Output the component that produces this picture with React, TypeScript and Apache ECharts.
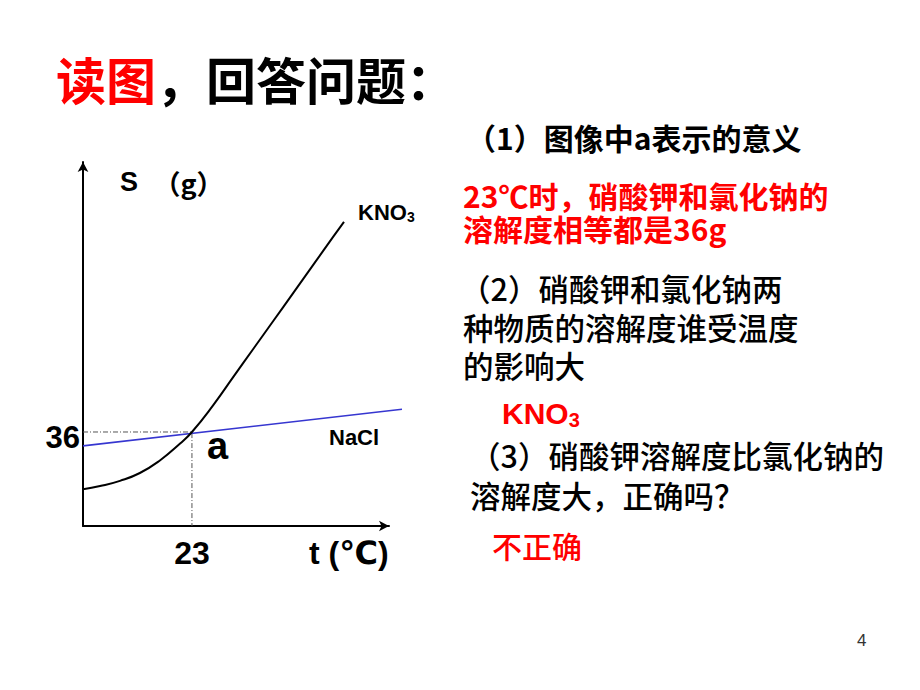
import React, { useEffect, useRef } from "react";
import * as echarts from "echarts";

// KNO3 solubility curve (t in ℃, S in g)
const kno3T = [0, 3.6, 7.8, 12.0, 16.3, 20.5, 23, 27.5, 31.7, 35.9, 40.2, 44.4, 48.6, 52.8, 55.1];
const kno3S = [14.1, 15.3, 17.3, 20.3, 25.2, 31.6, 36, 46.3, 57.0, 67.7, 78.6, 89.3, 100.0, 110.7, 116.5];
// NaCl solubility line
const naclT = [0, 67.3];
const naclS = [30.7, 44.7];
// intersection point a
const crossT = 23;
const crossS = 36;
const xTicks = [23];
const yTicks = [36];

const CJK = '"Noto Sans CJK SC", "Noto Sans", sans-serif';
const LAT = 'Arial, "Liberation Sans", "DejaVu Sans", "Noto Sans CJK SC", sans-serif';

export default function App() {
  const ref = useRef<HTMLDivElement>(null);
  useEffect(() => {
    if (!ref.current) return;
    const chart = echarts.init(ref.current, null, { renderer: "svg" });
    const txt = (x: number, y: number, text: string, font: any, extra: any = {}) => ({
      type: "text",
      x,
      y,
      style: {
        text,
        fontFamily: font.family || CJK,
        fontSize: font.size,
        lineHeight: font.size,
        fontWeight: font.weight || "normal",
        fill: font.color || "#000",
        verticalAlign: "middle",
        align: "left",
        ...extra,
      },
    });
    const axisLine = {
      show: true,
      onZero: false,
      lineStyle: { color: "#000", width: 2 },
      symbol: ["none", "arrow"],
      symbolSize: [8, 10],
    };
    chart.setOption({
      animation: false,
      backgroundColor: "#fff",
      grid: [
        { left: 83, right: 531, top: 162, bottom: 164, containLabel: false },
        { left: 83, right: 518, top: 162, bottom: 164, containLabel: false },
      ],
      xAxis: [
        {
          type: "value",
          gridIndex: 0,
          min: 0,
          max: 64.6,
          splitLine: { show: false },
          axisTick: { show: false },
          axisLine,
          axisLabel: {
            customValues: xTicks,
            margin: 11,
            fontSize: 32,
            fontWeight: "bold",
            fontFamily: LAT,
            color: "#000",
          },
        },
        {
          type: "value",
          gridIndex: 1,
          min: 0,
          max: 67.3,
          show: false,
        },
      ],
      yAxis: [
        {
          type: "value",
          gridIndex: 0,
          min: 0,
          max: 139.4,
          splitLine: { show: false },
          axisTick: { show: false },
          axisLine,
          axisLabel: {
            customValues: yTicks,
            margin: 3,
            fontSize: 31,
            fontWeight: "bold",
            fontFamily: LAT,
            color: "#000",
            verticalAlign: "top",
            lineHeight: 12,
          },
        },
        {
          type: "value",
          gridIndex: 1,
          min: 0,
          max: 139.4,
          show: false,
        },
      ],
      series: [
        {
          name: "guide",
          type: "line",
          data: [
            [0, crossS],
            [crossT, crossS],
            [crossT, 0],
          ],
          symbol: "none",
          lineStyle: { color: "#555", width: 1, type: [5, 2, 1, 2] },
          z: 1,
        },
        {
          name: "KNO3",
          type: "line",
          smooth: 0.5,
          data: kno3T.map((t, i) => [t, kno3S[i]]),
          symbol: "none",
          lineStyle: { color: "#000", width: 2 },
          z: 3,
        },
        {
          name: "NaCl",
          type: "line",
          xAxisIndex: 1,
          yAxisIndex: 1,
          data: naclT.map((t, i) => [t, naclS[i]]),
          symbol: "none",
          lineStyle: { color: "#3636D0", width: 1.6 },
          z: 2,
        },
      ],
      graphic: [
        {
          type: "text",
          x: 56,
          y: 78,
          style: {
            text: "{r|读图}{b|，回答问题：}",
            verticalAlign: "middle",
            rich: {
              r: { fontFamily: CJK, fontSize: 50, lineHeight: 50, fill: "#FF0000", fontWeight: "bold" },
              b: { fontFamily: CJK, fontSize: 50, lineHeight: 50, fill: "#000", fontWeight: "bold" },
            },
          },
        },
        txt(466, 137, "（1）图像中a表示的意义", { size: 30, weight: "bold" }),
        txt(463, 195, "23℃时，硝酸钾和氯化钠的", { size: 30, weight: "bold", color: "#FF0000" }),
        txt(463, 228, "溶解度相等都是36g", { size: 30, weight: "bold", color: "#FF0000" }),
        txt(460, 288, "（2）硝酸钾和氯化钠两", { size: 30.5, weight: 500 }),
        txt(463, 327, "种物质的溶解度谁受温度", { size: 30.5, weight: 500 }),
        txt(463, 365, "的影响大", { size: 30.5, weight: 500 }),
        {
          type: "text",
          x: 502,
          y: 413,
          style: {
            text: "{m|KNO}{s|3}",
            verticalAlign: "middle",
            rich: {
              m: { fontFamily: LAT, fontSize: 30, lineHeight: 30, fontWeight: "bold", fill: "#FF0000" },
              s: { fontFamily: LAT, fontSize: 20, lineHeight: 20, fontWeight: "bold", fill: "#FF0000", padding: [14, 0, 0, 0] },
            },
          },
        },
        txt(470, 455, "（3）硝酸钾溶解度比氯化钠的", { size: 30.5, weight: 500 }),
        txt(470, 495, "溶解度大，正确吗？", { size: 30.5, weight: 500 }),
        txt(492, 545, "不正确", { size: 30, color: "#FF0000", weight: 500 }),
        {
          type: "text",
          x: 120,
          y: 182,
          style: {
            text: "{a|S }{b|（g）}",
            verticalAlign: "middle",
            rich: {
              a: { fontFamily: LAT, fontSize: 27, lineHeight: 27, fontWeight: "bold", fill: "#000" },
              b: { fontFamily: CJK, fontSize: 27, lineHeight: 27, fontWeight: "bold", fill: "#000", padding: [0, 0, 0, 8] },
            },
          },
        },
        {
          type: "text",
          x: 358,
          y: 212,
          style: {
            text: "{m|KNO}{s|3}",
            verticalAlign: "middle",
            rich: {
              m: { fontFamily: LAT, fontSize: 22, lineHeight: 22, fontWeight: "bold", fill: "#000" },
              s: { fontFamily: LAT, fontSize: 14, lineHeight: 14, fontWeight: "bold", fill: "#000", padding: [10, 0, 0, 0] },
            },
          },
        },
        txt(329, 437, "NaCl", { size: 22, weight: "bold", family: LAT }),
        txt(207, 446, "a", { size: 38, weight: "bold", family: LAT }),
        txt(309, 553, "t (℃)", { size: 32, weight: "bold", family: LAT }),
        txt(857, 640, "4", { size: 17, family: LAT, color: "#333" }),
      ],
    });
    return () => chart.dispose();
  }, []);
  return (
    <div
      ref={ref}
      style={{ position: "absolute", left: 0, top: 0, width: 920, height: 690 }}
    />
  );
}
